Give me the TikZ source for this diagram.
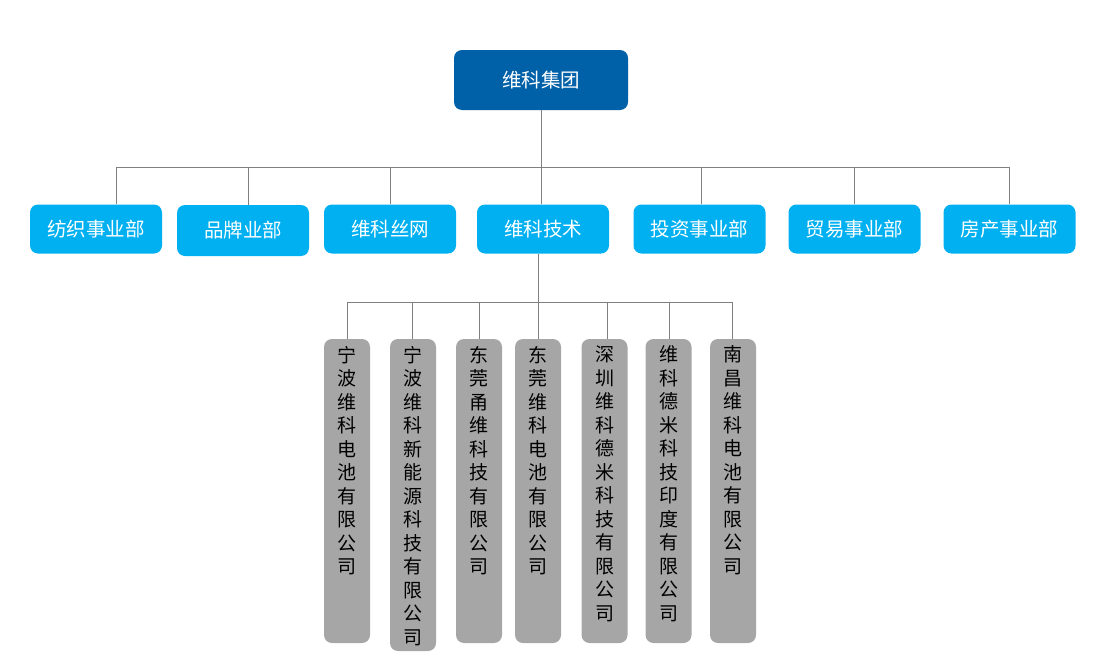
\documentclass[tikz,border=0pt]{standalone}
\usepackage{fontspec}
\setmainfont{Noto Sans CJK SC}
\definecolor{topblue}{HTML}{0060A8}
\definecolor{skyblue}{HTML}{00B0F0}
\definecolor{bargray}{HTML}{A6A6A6}
\definecolor{linegray}{HTML}{808080}
\begin{document}
\begin{tikzpicture}[x=1pt,y=-1pt,
  lvlone/.style={rectangle, rounded corners=8pt, fill=topblue, text=white, minimum width=174pt, minimum height=60pt, inner sep=0pt, font=\fontsize{19.5}{23}\selectfont},
  lvltwo/.style={rectangle, rounded corners=8pt, fill=skyblue, text=white, minimum width=132pt, minimum height=49pt, inner sep=0pt, font=\fontsize{19.5}{23}\selectfont},
  barbox/.style={rectangle, rounded corners=8pt, fill=bargray, minimum width=46pt, inner sep=0pt},
  bartext/.style={align=center, anchor=north, inner sep=0pt, text=black, font=\fontsize{19}{23.5}\selectfont},
  conn/.style={draw=linegray, line width=1pt}]
\useasboundingbox (0,0) rectangle (1106,664);

\node[lvlone] (top) at (541,80) {维科集团};

\node[lvltwo] (n1) at (96,229) {纺织事业部};
\node[lvltwo, minimum height=51pt] (n2) at (243,230.5) {品牌业部};
\node[lvltwo] (n3) at (390,229) {维科丝网};
\node[lvltwo] (n4) at (543,229) {维科技术};
\node[lvltwo] (n5) at (699.5,229) {投资事业部};
\node[lvltwo] (n6) at (854.5,229) {贸易事业部};
\node[lvltwo] (n7) at (1009.5,229) {房产事业部};

% bus level 2
\coordinate (ba) at (116,167);
\coordinate (bb) at (248,167);
\coordinate (bc) at (390,167);
\coordinate (bd) at (541,167);
\coordinate (be) at (701,167);
\coordinate (bf) at (854,167);
\coordinate (bg) at (1009,167);
\draw[conn] (top.south) -- (bd);
\draw[conn] (ba) -- (bg);
\draw[conn] (ba) -- (ba |- n1.north);
\draw[conn] (bb) -- (bb |- n2.north);
\draw[conn] (bc) -- (bc |- n3.north);
\draw[conn] (bd) -- (bd |- n4.north);
\draw[conn] (be) -- (be |- n5.north);
\draw[conn] (bf) -- (bf |- n6.north);
\draw[conn] (bg) -- (bg |- n7.north);

% bars
\node[barbox, minimum height=304pt] (b1) at (347,491) {};
\node[barbox, minimum height=312pt] (b2) at (413,495) {};
\node[barbox, minimum height=304pt] (b3) at (479,491) {};
\node[barbox, minimum height=304pt] (b4) at (538,491) {};
\node[barbox, minimum height=304pt] (b5) at (604.5,491) {};
\node[barbox, minimum height=304pt] (b6) at (668.5,491) {};
\node[barbox, minimum height=304pt] (b7) at (733,491) {};

\node[bartext] (t1) at ([yshift=-7pt]b1.north) {宁\\波\\维\\科\\电\\池\\有\\限\\公\\司};
\node[bartext] (t2) at ([yshift=-7pt]b2.north) {宁\\波\\维\\科\\新\\能\\源\\科\\技\\有\\限\\公\\司};
\node[bartext] (t3) at ([yshift=-7pt]b3.north) {东\\莞\\甬\\维\\科\\技\\有\\限\\公\\司};
\node[bartext] (t4) at ([yshift=-7pt]b4.north) {东\\莞\\维\\科\\电\\池\\有\\限\\公\\司};
\node[bartext] (t5) at ([yshift=-7pt]b5.north) {深\\圳\\维\\科\\德\\米\\科\\技\\有\\限\\公\\司};
\node[bartext] (t6) at ([yshift=-7pt]b6.north) {维\\科\\德\\米\\科\\技\\印\\度\\有\\限\\公\\司};
\node[bartext] (t7) at ([yshift=-7pt]b7.north) {南\\昌\\维\\科\\电\\池\\有\\限\\公\\司};

% bus level 3
\coordinate (ca) at (347,302);
\coordinate (cb) at (412,302);
\coordinate (cc) at (479,302);
\coordinate (cd) at (538,302);
\coordinate (ce) at (607,302);
\coordinate (cf) at (669,302);
\coordinate (cg) at (732,302);
\draw[conn] (cd |- n4.south) -- (cd);
\draw[conn] (ca) -- (cg);
\draw[conn] (ca) -- (ca |- b1.north);
\draw[conn] (cb) -- (cb |- b2.north);
\draw[conn] (cc) -- (cc |- b3.north);
\draw[conn] (cd) -- (cd |- b4.north);
\draw[conn] (ce) -- (ce |- b5.north);
\draw[conn] (cf) -- (cf |- b6.north);
\draw[conn] (cg) -- (cg |- b7.north);
\end{tikzpicture}
\end{document}
